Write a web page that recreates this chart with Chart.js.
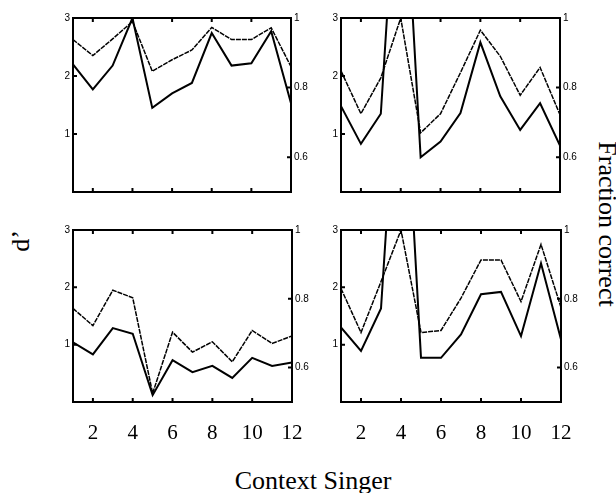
<!DOCTYPE html>
<html>
<head>
<meta charset="utf-8">
<script src="https://cdn.jsdelivr.net/npm/chart.js@4.4.1/dist/chart.umd.min.js"></script>
<style>
  html, body { margin: 0; padding: 0; background: #fff; }
  #fig { position: relative; width: 616px; height: 493px; overflow: hidden; font-family: "Liberation Serif", "Times New Roman", serif; color: #000; }
  #fig canvas { position: absolute; }
  .lbl { position: absolute; font-size: 26px; line-height: 26px; white-space: nowrap; }
</style>
</head>
<body>
<div id="fig">
  <canvas id="pTL" width="272" height="194" style="left:49px;top:8px"></canvas>
  <canvas id="pTR" width="273" height="194" style="left:317px;top:8px"></canvas>
  <canvas id="pBL" width="273" height="232" style="left:49px;top:220px"></canvas>
  <canvas id="pBR" width="274" height="232" style="left:317px;top:220px"></canvas>
  <div class="lbl" style="left:21px;top:241px;transform:translate(-50%,-50%) rotate(-90deg)">d’</div>
  <div class="lbl" style="left:607px;top:224px;transform:translate(-50%,-50%) rotate(90deg)">Fraction correct</div>
  <div class="lbl" style="left:313px;top:468px;transform:translateX(-50%)">Context Singer</div>
</div>
<script>
/* ---- data ---------------------------------------------------------------- */
const SINGERS = [1, 2, 3, 4, 5, 6, 7, 8, 9, 10, 11, 12];
const X_TICKS = [2, 4, 6, 8, 10, 12];
const DPRIME_TICKS = [1, 2, 3];
const FRACTION_TICKS = [0.6, 0.8, 1];

// top left
const DPRIME_TL = [2.20, 1.77, 2.18, 3.00, 1.45, 1.70, 1.88, 2.74, 2.18, 2.22, 2.77, 1.53];
const FRACTION_TL = [0.938, 0.892, 0.940, 0.990, 0.847, 0.880, 0.908, 0.973, 0.938, 0.938, 0.972, 0.860];
// top right
const DPRIME_TR = [1.48, 0.83, 1.35, 6.70, 0.60, 0.87, 1.36, 2.58, 1.65, 1.07, 1.53, 0.80];
const FRACTION_TR = [0.848, 0.725, 0.828, 1.000, 0.670, 0.725, 0.843, 0.965, 0.890, 0.778, 0.858, 0.722];
// bottom left
const DPRIME_BL = [1.04, 0.83, 1.29, 1.19, 0.12, 0.73, 0.52, 0.63, 0.42, 0.77, 0.63, 0.69];
const FRACTION_BL = [0.772, 0.722, 0.825, 0.803, 0.525, 0.703, 0.645, 0.675, 0.617, 0.708, 0.670, 0.692];
// bottom right
const DPRIME_BR = [1.30, 0.89, 1.63, 7.00, 0.77, 0.77, 1.18, 1.88, 1.92, 1.15, 2.42, 1.09];
const FRACTION_BR = [0.830, 0.702, 0.850, 1.000, 0.702, 0.708, 0.802, 0.913, 0.913, 0.792, 0.958, 0.775];

/* ---- box + inward tick marks, MATLAB style ------------------------------- */
const TICK = 4;
const frame = {
  id: "frame",
  afterDatasetsDraw(chart) {
    const { ctx, chartArea: a, scales } = chart;
    ctx.save();
    ctx.strokeStyle = "#000";
    ctx.lineWidth = 2;
    ctx.strokeRect(a.left, a.top, a.width, a.height);
    ctx.beginPath();
    scales.x.ticks.forEach((t) => {
      const px = scales.x.getPixelForValue(t.value);
      ctx.moveTo(px, a.top); ctx.lineTo(px, a.top + TICK);
      ctx.moveTo(px, a.bottom); ctx.lineTo(px, a.bottom - TICK);
    });
    scales.y.ticks.forEach((t) => {
      const py = scales.y.getPixelForValue(t.value);
      ctx.moveTo(a.left, py); ctx.lineTo(a.left + TICK, py);
    });
    scales.y1.ticks.forEach((t) => {
      const py = scales.y1.getPixelForValue(t.value);
      ctx.moveTo(a.right, py); ctx.lineTo(a.right - TICK, py);
    });
    ctx.stroke();
    ctx.restore();
  },
};

const smallFont = { family: "Liberation Sans", size: 10 };
const fixTicks = (list) => (s) => { s.ticks = list.map((v) => ({ value: v })); };

function panel(id, dprime, fraction, showX) {
  return new Chart(document.getElementById(id), {
    type: "line",
    data: {
      datasets: [
        {
          data: SINGERS.map((x, i) => ({ x, y: dprime[i] })),
          yAxisID: "y",
          borderColor: "#000",
          borderWidth: 2,
          pointRadius: 0,
          tension: 0,
          clip: 0,
        },
        {
          data: SINGERS.map((x, i) => ({ x, y: fraction[i] })),
          yAxisID: "y1",
          borderColor: "#000",
          borderWidth: 1.5,
          borderDash: [5, 1],
          pointRadius: 0,
          tension: 0,
          clip: 0,
        },
      ],
    },
    options: {
      responsive: false,
      animation: false,
      devicePixelRatio: 1,
      events: [],
      layout: { padding: { top: 10 } },
      plugins: { legend: { display: false }, tooltip: { enabled: false } },
      scales: {
        x: {
          type: "linear", min: 1, max: 12,
          grid: { display: false, drawTicks: false }, border: { display: false },
          afterBuildTicks: fixTicks(X_TICKS),
          afterFit: (s) => { s.height = showX ? 50 : 10; },
          ticks: {
            display: showX, autoSkip: false, maxRotation: 0, padding: 19, color: "#000",
            font: { family: "Liberation Serif", size: 21 },
            callback: (v) => String(v),
          },
        },
        y: {
          position: "left", min: 0, max: 3,
          grid: { display: false, drawTicks: false }, border: { display: false },
          afterBuildTicks: fixTicks(DPRIME_TICKS),
          afterFit: (s) => { s.width = 24; },
          ticks: { padding: 3, color: "#000", font: smallFont, callback: (v) => String(v) },
        },
        y1: {
          position: "right", min: 0.5, max: 1,
          grid: { display: false, drawTicks: false }, border: { display: false },
          afterBuildTicks: fixTicks(FRACTION_TICKS),
          afterFit: (s) => { s.width = 30; },
          ticks: { padding: 3, color: "#000", font: smallFont, callback: (v) => String(v) },
        },
      },
    },
    plugins: [frame],
  });
}

panel("pTL", DPRIME_TL, FRACTION_TL, false);
panel("pTR", DPRIME_TR, FRACTION_TR, false);
panel("pBL", DPRIME_BL, FRACTION_BL, true);
panel("pBR", DPRIME_BR, FRACTION_BR, true);
</script>
</body>
</html>
